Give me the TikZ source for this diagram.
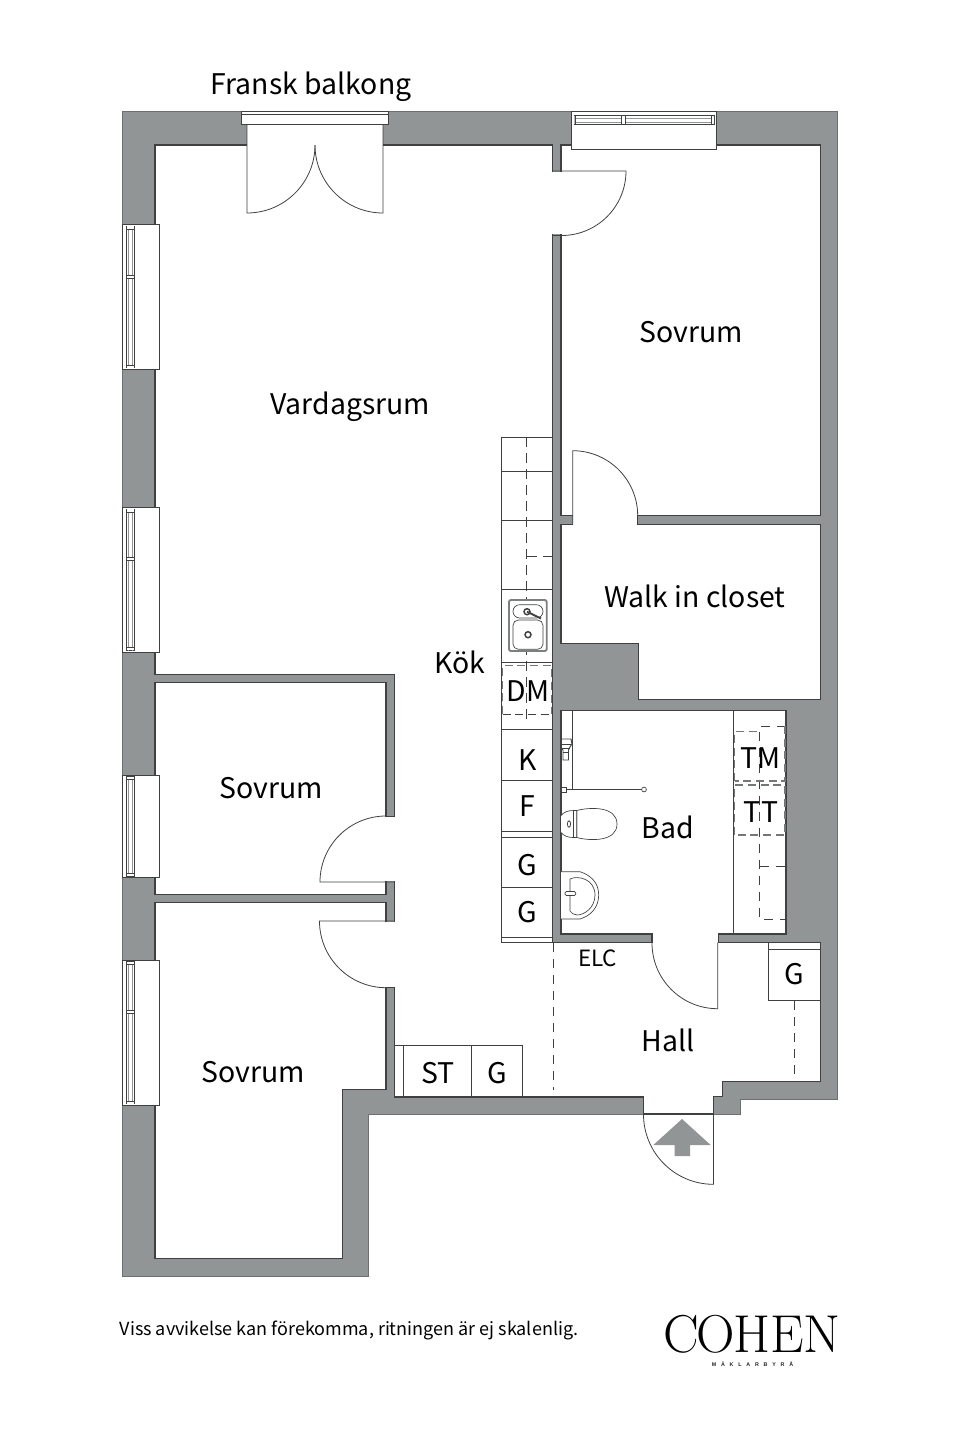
\documentclass[tikz,border=0pt]{standalone}
\usepackage{fontspec}
\setmainfont{Noto Sans CJK SC}
\newfontfamily\tinylogo[LetterSpace=90]{Liberation Sans}
\definecolor{wallgray}{HTML}{919595}
\definecolor{inkline}{HTML}{3F4141}
\tikzset{
  wall/.style={fill=wallgray,draw=wallgray!75!black,line width=0.4pt},
  room/.style={fill=white,draw=inkline,line width=0.8pt},
  gap/.style={fill=white,draw=none},
  thin/.style={draw=inkline,line width=0.55pt},
  leaf/.style={draw=inkline,line width=0.6pt},
  fixture/.style={draw=inkline,line width=0.5pt,fill=white},
  cut/.style={draw=inkline,line width=0.55pt,dash pattern=on 7pt off 5pt},
  appl/.style={draw=wallgray!80!black,line width=1pt,dash pattern=on 6pt off 3.5pt},
  lab/.style={font=\fontsize{21.3pt}{26pt}\selectfont,text=black,inner sep=0pt},
  elc/.style={font=\fontsize{16.8pt}{20pt}\selectfont,text=black,inner sep=0pt},
}
\newcommand{\sidewindow}[2]{%
  \fill[white] (122,#1) rectangle (159,#2);
  \draw[thin] (122,#1) rectangle (159,#2);
  \draw[thin,line width=0.5pt] (126.5,#1+1.5) rectangle (134.5,#2-1.5);
  \draw[wallgray,line width=0.5pt] (128.5,#1+1.5) -- (128.5,#2-1.5) (132.5,#1+1.5) -- (132.5,#2-1.5);
  \fill[white] (126.8,#1+1.8) rectangle (134.2,#1+4.5);
  \fill[white] (126.8,#2-1.8) rectangle (134.2,#2-4.5);
  \draw[thin,line width=0.4pt] (126.5,#1+4.5) -- (134.5,#1+4.5) (126.5,#2-4.5) -- (134.5,#2-4.5);
}
\newcommand{\sidebar}[1]{%
  \fill[white] (126.8,#1-1.6) rectangle (134.2,#1+1.6);
  \draw[thin,line width=0.4pt] (126.5,#1-1.6) -- (134.5,#1-1.6) (126.5,#1+1.6) -- (134.5,#1+1.6);
}
\begin{document}
\begin{tikzpicture}[x=0.75pt,y=-0.75pt]
\useasboundingbox (0,0) rectangle (960,1440);
\fill[white] (0,0) rectangle (960,1440);
% walls
\path[wall] (122,111) -- (837.5,111) -- (837.5,1099) -- (740,1099) -- (740,1114) -- (368.5,1114) -- (368.5,1276) -- (122,1276) -- cycle;
% rooms
\path[room] (155,145) -- (552.5,145) -- (552.5,942.7) -- (652,942.7) -- (652,934) -- (718,934) -- (718,942.7) -- (820.5,942.7) -- (820.5,1081.7) -- (722.5,1081.7) -- (722.5,1096.7) -- (713.5,1096.7) -- (713.5,1114) -- (643.5,1114) -- (643.5,1097) -- (394.3,1097) -- (394.3,674.3) -- (155,674.3) -- cycle;
\path[room] (561,145) -- (820.5,145) -- (820.5,515.7) -- (561,515.7) -- cycle;
\path[room] (561,524.3) -- (820.5,524.3) -- (820.5,699.3) -- (638.3,699.3) -- (638.3,643.7) -- (561,643.7) -- cycle;
\path[room] (561,710.7) -- (786,710.7) -- (786,934) -- (561,934) -- cycle;
\path[room] (155,682.7) -- (386,682.7) -- (386,894.3) -- (155,894.3) -- cycle;
\path[room] (155,902.7) -- (386,902.7) -- (386,1089.3) -- (342.7,1089.3) -- (342.7,1258.3) -- (155,1258.3) -- cycle;
% door openings
\path[gap] (551,171.6) rectangle (562,234.4);
\path[gap] (573.2,514.5) rectangle (636.6,525.5);
\path[gap] (385,816.6) rectangle (395.5,881.4);
\path[gap] (385,921.6) rectangle (395.5,987.1);
\path[gap] (652.5,933) rectangle (717.5,944);
% balcony door and window
\path[gap] (247,122) rectangle (383,146);
\draw[thin,fill=white] (241,111) rectangle (388,124);
\draw[thin] (241,114.2) -- (388,114.2);
\draw[leaf] (247,124) -- (247,213) arc[start angle=90,end angle=0,radius=68];
\draw[leaf] (383,124) -- (383,213) arc[start angle=90,end angle=180,radius=68];
% top right window
\draw[thin,fill=white] (571.5,111) rectangle (716,149.3);
\draw[thin,line width=0.5pt] (574,115.7) rectangle (714.3,124.3);
\draw[wallgray,line width=0.5pt] (575.5,118) -- (713,118) (575.5,122) -- (713,122);
\fill[white] (574.4,116.1) rectangle (575.6,123.9) (621.5,116.1) rectangle (625,123.9) (711.7,116.1) rectangle (713.9,123.9);
\draw[thin,line width=0.4pt] (575.6,115.7) -- (575.6,124.3) (621.5,115.7) -- (621.5,124.3) (625,115.7) -- (625,124.3) (711.7,115.7) -- (711.7,124.3);
% side windows
\sidewindow{224.5}{369.3}\sidebar{276.7}
\sidewindow{507.5}{652}\sidebar{559}
\sidewindow{775}{877.7}
\sidewindow{960}{1105.3}\sidebar{1012}
% doors
\draw[leaf] (552.5,171) -- (626,171) arc[start angle=0,end angle=90,radius=64.5];
\draw[thin] (552.5,235) -- (561,235);
\draw[leaf] (572.7,524.3) -- (572.7,450.7) arc[start angle=-90,end angle=0,radius=65];
\draw[thin] (637,515.7) -- (637,524.3);
\draw[leaf] (394.3,882) -- (320,882) arc[start angle=180,end angle=270,radius=66];
\draw[thin] (386,816) -- (394.3,816);
\draw[leaf] (394.3,921) -- (319.5,921) arc[start angle=180,end angle=90,radius=66.7];
\draw[thin] (386,987.7) -- (394.3,987.7);
\draw[leaf] (717.7,942.7) -- (717.7,1008.7) arc[start angle=90,end angle=180,radius=65.7];
\draw[leaf] (713.5,1097) -- (713.5,1184.3) arc[start angle=90,end angle=180,radius=70];
% entry arrow
\fill[wallgray] (682,1119) -- (710.7,1145) -- (690,1145) -- (690,1156) -- (674.7,1156) -- (674.7,1145) -- (653.3,1145) -- cycle;
% kitchen counter
\draw[thin] (552.5,437.3) -- (501,437.3) -- (501,942.7) -- (552.5,942.7);
\foreach \yy in {471.3,520.7,589,662.3,729,780.3,831.3,837,887,937.3}{\draw[thin] (501,\yy) -- (552.5,\yy);}
\draw[cut] (526.7,437.3) -- (526.7,720);
\draw[cut] (552.5,556.7) -- (526.7,556.7);
\draw[appl] (502.7,714) -- (502.7,665.3) -- (551.3,665.3) -- (551.3,714);
\draw[cut,dash pattern=on 6pt off 3.5pt] (502.7,714) -- (551.3,714);
% sink
\draw[wallgray!85!black,line width=1.4pt,fill=white,rounded corners=1.5pt] (509,600) rectangle (546.7,651);
\draw[fixture,rounded corners=5pt] (513,604.7) rectangle (543,618);
\draw[fixture,rounded corners=4pt] (513,620) rectangle (543,649.3);
\draw[inkline,line width=1.1pt] (527,611.7) circle[radius=3];
\draw[inkline,line width=1.4pt] (527,611.7) -- (541,618.5);
\draw[inkline,line width=1.1pt] (528,634.7) circle[radius=3];
% bathroom storage
\draw[thin] (733.3,710.7) -- (733.3,934);
\draw[cut] (786,726) -- (759.7,726) -- (759.7,919.3) -- (786,919.3);
\draw[cut] (759.7,866.7) -- (786,866.7);
\draw[appl] (734.5,781) -- (734.5,731.7) -- (760,731.7) (785,726) -- (785,781) -- (734.5,781);
\draw[appl] (734.5,835) -- (734.5,785) -- (785,785) -- (785,835) -- (734.5,835);
% shower
\draw[thin] (572.3,710.7) -- (572.3,789.5);
\draw[inkline,line width=1.2pt] (566,789.5) -- (641.6,789.5);
\draw[fixture] (561.8,787) rectangle (566.5,792);
\draw[fixture] (644,789.5) circle[radius=2.4];
\draw[fixture,line width=0.7pt] (561.5,739) -- (571,739) -- (572,744) -- (570,747) -- (568.5,750) -- (568.5,760) -- (563,760) -- (563,750) -- (561.5,748) -- cycle;
\draw[inkline,line width=0.7pt] (562,744) -- (571,744) (563,752) -- (568.5,752) (561.5,748) -- (570,748);
% toilet
\draw[fixture] (576.7,810.5) .. controls (590,807) and (617,806) .. (617,824) .. controls (617,842) and (590,841) .. (576.7,837.5) -- cycle;
\draw[fixture] (561,815.5) .. controls (564,812) and (568,810.5) .. (573.5,810.5) -- (576.7,810.5) -- (576.7,837.5) -- (573.5,837.5) .. controls (568,837.5) and (564,836) .. (561,832.5);
\draw[inkline,line width=0.55pt] (573.5,810.5) -- (573.5,837.5);
\draw[inkline,line width=0.6pt] (569,824) ellipse[x radius=1.6,y radius=3.2];
% wash basin
\draw[fixture] (561,871.7) -- (580,871.7) .. controls (590,875) and (598.7,882) .. (598.7,895) .. controls (598.7,908) and (590,916) .. (580,919) -- (561,919);
\draw[fixture] (570,879) .. controls (578,875) and (595,879) .. (595,895) .. controls (595,908) and (584,915) .. (577,915) .. controls (574,915) and (571,913) .. (570,911) -- cycle;
\draw[fixture,rounded corners=1pt] (565,891.5) rectangle (575.7,895.5);
% hall G and ST G units
\draw[thin] (768.7,942.7) -- (768.7,1000.7) -- (820.5,1000.7);
\draw[thin] (768.7,949.3) -- (820.5,949.3);
\draw[cut] (794.7,1000.7) -- (794.7,1079);
\draw[thin] (394.3,1045.7) -- (522.7,1045.7) -- (522.7,1097);
\draw[thin] (403.3,1045.7) -- (403.3,1097) (471,1045.7) -- (471,1097);
\draw[cut] (553,942.7) -- (553,1090);
% labels
\node[lab] (balk) at (311,87) {Fransk balkong};
\node[lab] (s1) at (691,332) {Sovrum};
\node[lab] (vard) at (350,407) {Vardagsrum};
\node[lab] (walk) at (695,596) {Walk in closet};
\node[lab] (kok) at (460,662) {Kök};
\node[lab] (dm) at (528,691) {DM};
\node[lab] (s2) at (271,788) {Sovrum};
\node[lab] (k) at (528,760) {K};
\node[lab] (f) at (527,806) {F};
\node[lab] (g1) at (527.5,865) {G};
\node[lab] (g2) at (527.5,912.5) {G};
\node[lab] (bad) at (668,827) {Bad};
\node[lab] (tm) at (761,758) {TM};
\node[lab] (tt) at (761,812) {TT};
\node[elc] (elc) at (597.5,958) {ELC};
\node[lab] (hall) at (668,1040) {Hall};
\node[lab] (g3) at (794.5,974) {G};
\node[lab] (st) at (438,1073) {ST};
\node[lab] (g4) at (497.5,1073) {G};
\node[lab] (s3) at (253,1072) {Sovrum};
\node[font=\fontsize{13.5pt}{16pt}\selectfont,text=black,inner sep=0pt] (foot) at (349,1330) {Viss avvikelse kan förekomma, ritningen är ej skalenlig.};
% logo
\node[font=\fontfamily{lmr}\fontsize{40pt}{42pt}\selectfont,text=black,inner sep=0pt] (logo) at (752,1334) {C\kern-2pt O\kern-1.5pt H\kern0pt E\kern-0.5pt N};
\node[font=\tinylogo\bfseries\fontsize{4pt}{5pt}\selectfont,text=black!85,inner sep=0pt] (mak) at (752.5,1364) {MÄKLARBYRÅ};
\end{tikzpicture}
\end{document}
